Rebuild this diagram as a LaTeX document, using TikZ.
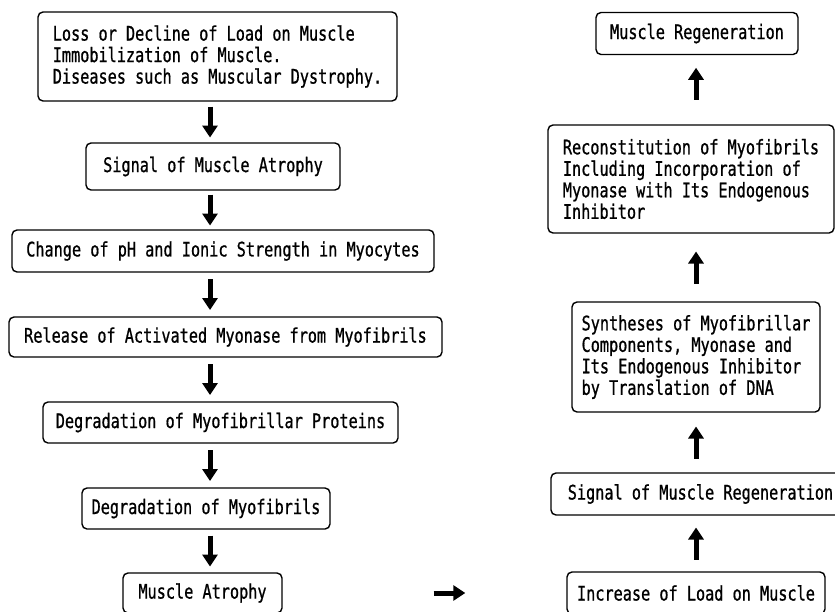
\documentclass[tikz,border=0pt]{standalone}
\usepackage{fontspec}
\newfontfamily\diagfont{DejaVu Sans Mono}[FakeStretch=0.76,FakeBold=0.8]
\usetikzlibrary{arrows.meta,calc}
\begin{document}
\begin{tikzpicture}[x=1pt,y=-1pt,
  font=\diagfont\fontsize{20}{21.5}\selectfont,
  box/.style={draw, line width=1.4pt, rounded corners=5pt, inner sep=0pt, align=left},
  arr/.style={line width=5pt, -{Triangle[length=12pt,width=15pt]}}]
\useasboundingbox (0,0) rectangle (835,611);
\fill[white] (0,0) rectangle (835,611);
\coordinate (cL) at (210,0);
\coordinate (cR) at (696,0);
% left column
\node[box, minimum width=359pt, minimum height=89pt] (L1) at (217.5,56.5)
  {Loss or Decline of Load on Muscle\\Immobilization of Muscle.\\Diseases such as Muscular Dystrophy.};
\node[box, minimum width=254pt, minimum height=47pt] (L2) at (213,166.5) {Signal of Muscle Atrophy};
\node[box, minimum width=422pt, minimum height=42pt] (L3) at (223,251) {Change of pH and Ionic Strength in Myocytes};
\node[box, minimum width=433pt, minimum height=40pt] (L4) at (225.5,337) {Release of Activated Myonase from Myofibrils};
\node[box, minimum width=355pt, minimum height=41pt] (L5) at (220.5,422.5) {Degradation of Myofibrillar Proteins};
\node[box, minimum width=248pt, minimum height=41pt] (L6) at (206,508.5) {Degradation of Myofibrils};
\node[box, minimum width=159pt, minimum height=40pt] (L7) at (202.5,593) {Muscle Atrophy};
% right column
\node[box, minimum width=202pt, minimum height=42pt] (R1) at (697,33.5) {Muscle Regeneration};
\node[box, minimum width=286pt, minimum height=108pt] (R2) at (691,179)
  {Reconstitution of Myofibrils\\Including Incorporation of\\Myonase with Its Endogenous\\Inhibitor};
\node[box, minimum width=248pt, minimum height=110pt] (R3) at (696,357)
  {Syntheses of Myofibrillar\\Components, Myonase and\\Its Endogenous Inhibitor\\by Translation of DNA};
\node[box, minimum width=299pt, minimum height=42pt] (R4) at (700.5,494) {Signal of Muscle Regeneration};
\node[box, minimum width=258pt, minimum height=42pt] (R5) at (696,593) {Increase of Load on Muscle};
% down arrows
\foreach \a/\b in {L1/L2,L2/L3,L3/L4,L4/L5,L5/L6,L6/L7}
  \draw[arr] ($(\a.south -| cL)!.5!(\b.north -| cL)$) ++(0,-15.5) -- ++(0,31);
% up arrows
\draw[arr] ($(R2.north -| cR)!.5!(R1.south -| cR)$) ++(0,10) -- ++(0,-32);
\foreach \a/\b in {R3/R2,R4/R3,R5/R4}
  \draw[arr] ($(\a.north -| cR)!.5!(\b.south -| cR)$) ++(0,16) -- ++(0,-32);
% horizontal arrow
\draw[arr, shorten <=151pt, shorten >=101pt] (L7.east) -- (R5.west);
\end{tikzpicture}
\end{document}
